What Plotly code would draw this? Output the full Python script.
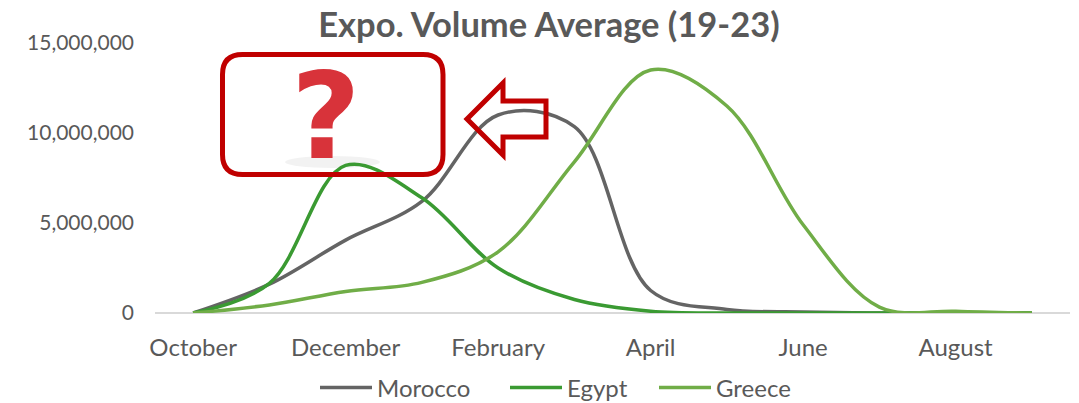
import plotly.graph_objects as go

months = ["October", "November", "December", "January", "February", "March",
          "April", "May", "June", "July", "August", "September"]
morocco = [0, 1600000, 4050000, 6200000, 11000000, 10350000, 1250000, 200000, 60000, 0, 0, 0]
egypt = [0, 1650000, 8200000, 6400000, 2500000, 750000, 100000, 0, 0, 0, 0, 0]
greece = [0, 450000, 1200000, 1700000, 3400000, 8400000, 13500000, 11500000, 4900000, 330000, 100000, 0]
tick_labels = ["October", "December", "February", "April", "June", "August"]
y_ticks = [0, 5000000, 10000000, 15000000]

W, H = 1079, 403
L, R, T, B = 155, 1070, 43, 313
FONT = "Lato"
TXT = "#595959"
RED = "#c00000"


def px(x):
    return (x - L) / (R - L)


def py(y):
    return (B - y) / (B - T)


def P(x, y):
    return f"{px(x):.5f},{py(y):.5f}"


fig = go.Figure()
for name, vals, color, lw in [("Morocco", morocco, "#646464", 123),
                              ("Egypt", egypt, "#3a9a32", 82),
                              ("Greece", greece, "#70ad47", 80)]:
    fig.add_trace(go.Scatter(x=months, y=vals, name=name, mode="lines", legendwidth=lw,
                             line=dict(color=color, width=3.5, shape="spline", smoothing=1.0)))

rx0, rx1, ry0, ry1, r = 222.5, 443, 54.5, 174.5, 20
rect = (f"M {P(rx0 + r, ry0)} L {P(rx1 - r, ry0)} Q {P(rx1, ry0)} {P(rx1, ry0 + r)} "
        f"L {P(rx1, ry1 - r)} Q {P(rx1, ry1)} {P(rx1 - r, ry1)} L {P(rx0 + r, ry1)} "
        f"Q {P(rx0, ry1)} {P(rx0, ry1 - r)} L {P(rx0, ry0 + r)} Q {P(rx0, ry0)} {P(rx0 + r, ry0)} Z")
arrow_pts = [(467, 119), (503, 83), (503, 101), (546, 101), (546, 137), (503, 137), (503, 155)]
arrow = "M " + " L ".join(P(*p) for p in arrow_pts) + " Z"

fig.update_layout(
    width=W, height=H,
    margin=dict(l=L, r=W - R, t=T, b=H - B, pad=0),
    paper_bgcolor="white", plot_bgcolor="white",
    font=dict(family=FONT, color=TXT, size=23),
    title=dict(text="<b>Expo. Volume Average (19-23)</b>", x=549 / W, xanchor="center",
               y=1 - 25 / H, yanchor="middle", font=dict(size=34.5, family=FONT, color=TXT)),
    xaxis=dict(categoryorder="array", categoryarray=months, tickmode="array", tickvals=tick_labels,
               ticktext=tick_labels, range=[-0.5, 11.5], showgrid=False, ticks="", showline=False,
               zeroline=False, automargin=False, tickfont=dict(size=24, color=TXT), ticklabelstandoff=18),
    yaxis=dict(range=[0, 15000000], tickmode="array", tickvals=y_ticks, tickformat=",d", showgrid=False,
               zeroline=True, zerolinecolor="#d9d9d9", zerolinewidth=2, showline=False, ticks="",
               automargin=False, tickfont=dict(size=21, color=TXT), ticklabelstandoff=20),
    legend=dict(orientation="h", x=315 / W, xanchor="left", y=1 - 388 / H, yanchor="middle",
                xref="container", yref="container", font=dict(size=24, color=TXT),
                itemwidth=52, tracegroupgap=0),
    shapes=[
        dict(type="circle", xref="paper", yref="paper", x0=px(285), x1=px(380), y0=py(168), y1=py(156),
             fillcolor="#f2f2f2", line=dict(width=0), layer="below"),
        dict(type="path", xref="paper", yref="paper", path=rect, line=dict(color=RED, width=5)),
        dict(type="path", xref="paper", yref="paper", path=arrow, line=dict(color=RED, width=5)),
    ],
    annotations=[
        dict(text="<b>?</b>", x=px(326), y=py(117), xref="paper", yref="paper", showarrow=False,
             xanchor="center", yanchor="middle",
             font=dict(family="DejaVu Sans", size=120, color="#d8333a")),
    ],
)
fig.write_html("out.html", config={"displayModeBar": False}, post_script="document.body.style.margin='0';")
